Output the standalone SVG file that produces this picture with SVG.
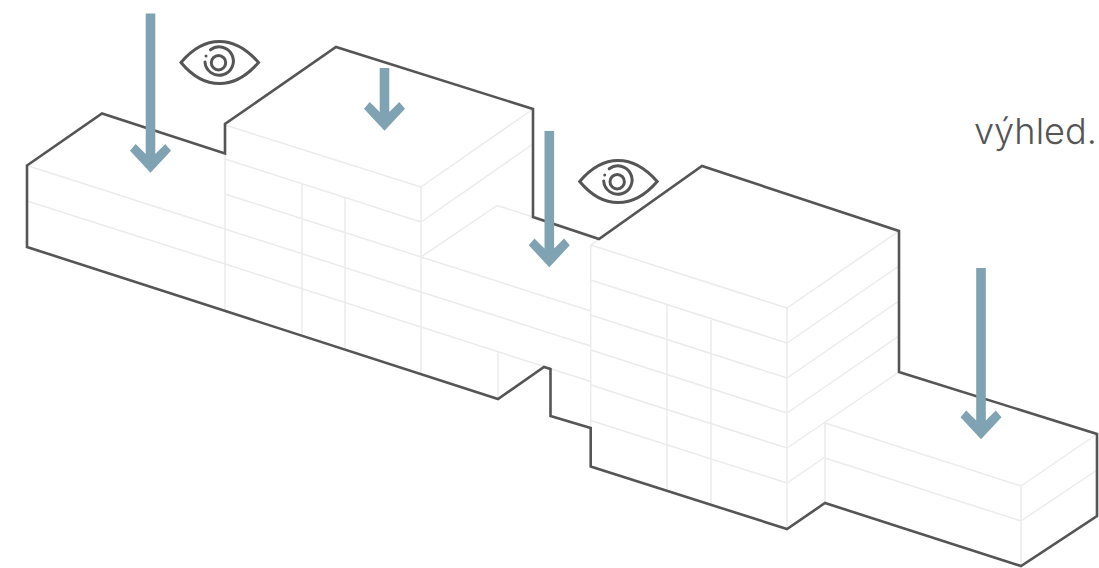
<svg xmlns="http://www.w3.org/2000/svg" width="1099" height="568" viewBox="0 0 1099 568">
  <style>
    .grid { fill: none; stroke: #ebebeb; stroke-width: 1.5; }
    .outline { fill: none; stroke: #555; stroke-width: 2.6; stroke-linejoin: miter; }
    .arrow { fill: #7fa3b2; }
    .eye { fill: none; stroke: #555; stroke-width: 3; stroke-linecap: round; }
    .label { font-family: "Inter", "Liberation Sans", sans-serif; font-size: 36px; font-weight: 300; fill: #555; }
  </style>
  <defs>
    <g id="eye-icon">
      <path class="eye" d="M181 62.5 C193 48 206 41.4 219.5 41.4 C233 41.4 246 48 258.5 62.5 C246 77 233 83.6 219.5 83.6 C206 83.6 193 77 181 62.5 Z"/>
      <circle class="eye" cx="218.5" cy="62.7" r="7.2"/>
      <path class="eye" d="M210.5 49.8 A14.2 14.2 0 1 1 205 62"/>
      <circle cx="206" cy="56" r="1.5" fill="#555"/>
    </g>
  </defs>
  <rect width="1099" height="568" fill="#fff"/>
  <g id="grid">
    <path class="grid" d="M27 165.5L225 229L421 292L590.7 346M27 201L225 264L421 327L590.7 381.5M225 194L421 257L590.7 311M225 159L421 222M225 125L421 187"/>
    <path class="grid" d="M590.7 245L787 308M590.7 280L787 343M590.7 315L787 378M590.7 350L787 413M590.7 385L787 448M590.7 420.5L787 483"/>
    <path class="grid" d="M421 187L533 109M421 222L533 144M421 257L497 205.5L533 217M591 245L599 239"/>
    <path class="grid" d="M787 308L899 231M787 343L899 266M787 378L899 301M787 413L899 336M787 448L899 372M787 483L825 457"/>
    <path class="grid" d="M825 423L1021 486L1097 434M825 458L1021 521L1097 470"/>
    <path class="grid" d="M225 124V311M302 183V336M345 197V350M421 187V374M498 352V399M590.7 245V467M667 305V491M711 320V505M787 308V529M825 423V503M1021 486V566"/>
  </g>
  <g id="building-outline">
    <path class="outline" d="M27 165.5L102 113.5L225 153.5V124L336 47L533 109V217L599 239L702 166L899 231V372L1097 434V516L1021 566L825 503L787 529L590.7 466.5V428L550.5 416V369L544 367L498 399L27 247Z"/>
  </g>
  <g id="arrows">
    <polygon id="arrow-1" class="arrow" points="145.7,13.5 155.3,13.5 155.3,154 165.3,144 171,150.7 150.5,172.7 130,150.7 135.7,144 145.7,154"/>
    <polygon id="arrow-2" class="arrow" points="379.7,68 389.3,68 389.3,112 399.3,102 405,108.7 384.5,130.7 364,108.7 369.7,102 379.7,112"/>
    <polygon id="arrow-3" class="arrow" points="544.5,131 554.1,131 554.1,248.6 564.1,238.6 569.8,245.3 549.3,267.3 528.8,245.3 534.5,238.6 544.5,248.6"/>
    <polygon id="arrow-4" class="arrow" points="976.2,268 985.8,268 985.8,420.6 995.8,410.6 1001.5,417.3 981,439.3 960.5,417.3 966.2,410.6 976.2,420.6"/>
  </g>
  <g id="eye-1"><use href="#eye-icon"/></g>
  <g id="eye-2"><use href="#eye-icon" transform="translate(398.7 119)"/></g>
  <g id="label"><text class="label" x="974" y="143.5" textLength="123" lengthAdjust="spacingAndGlyphs">výhled.</text></g>
</svg>
